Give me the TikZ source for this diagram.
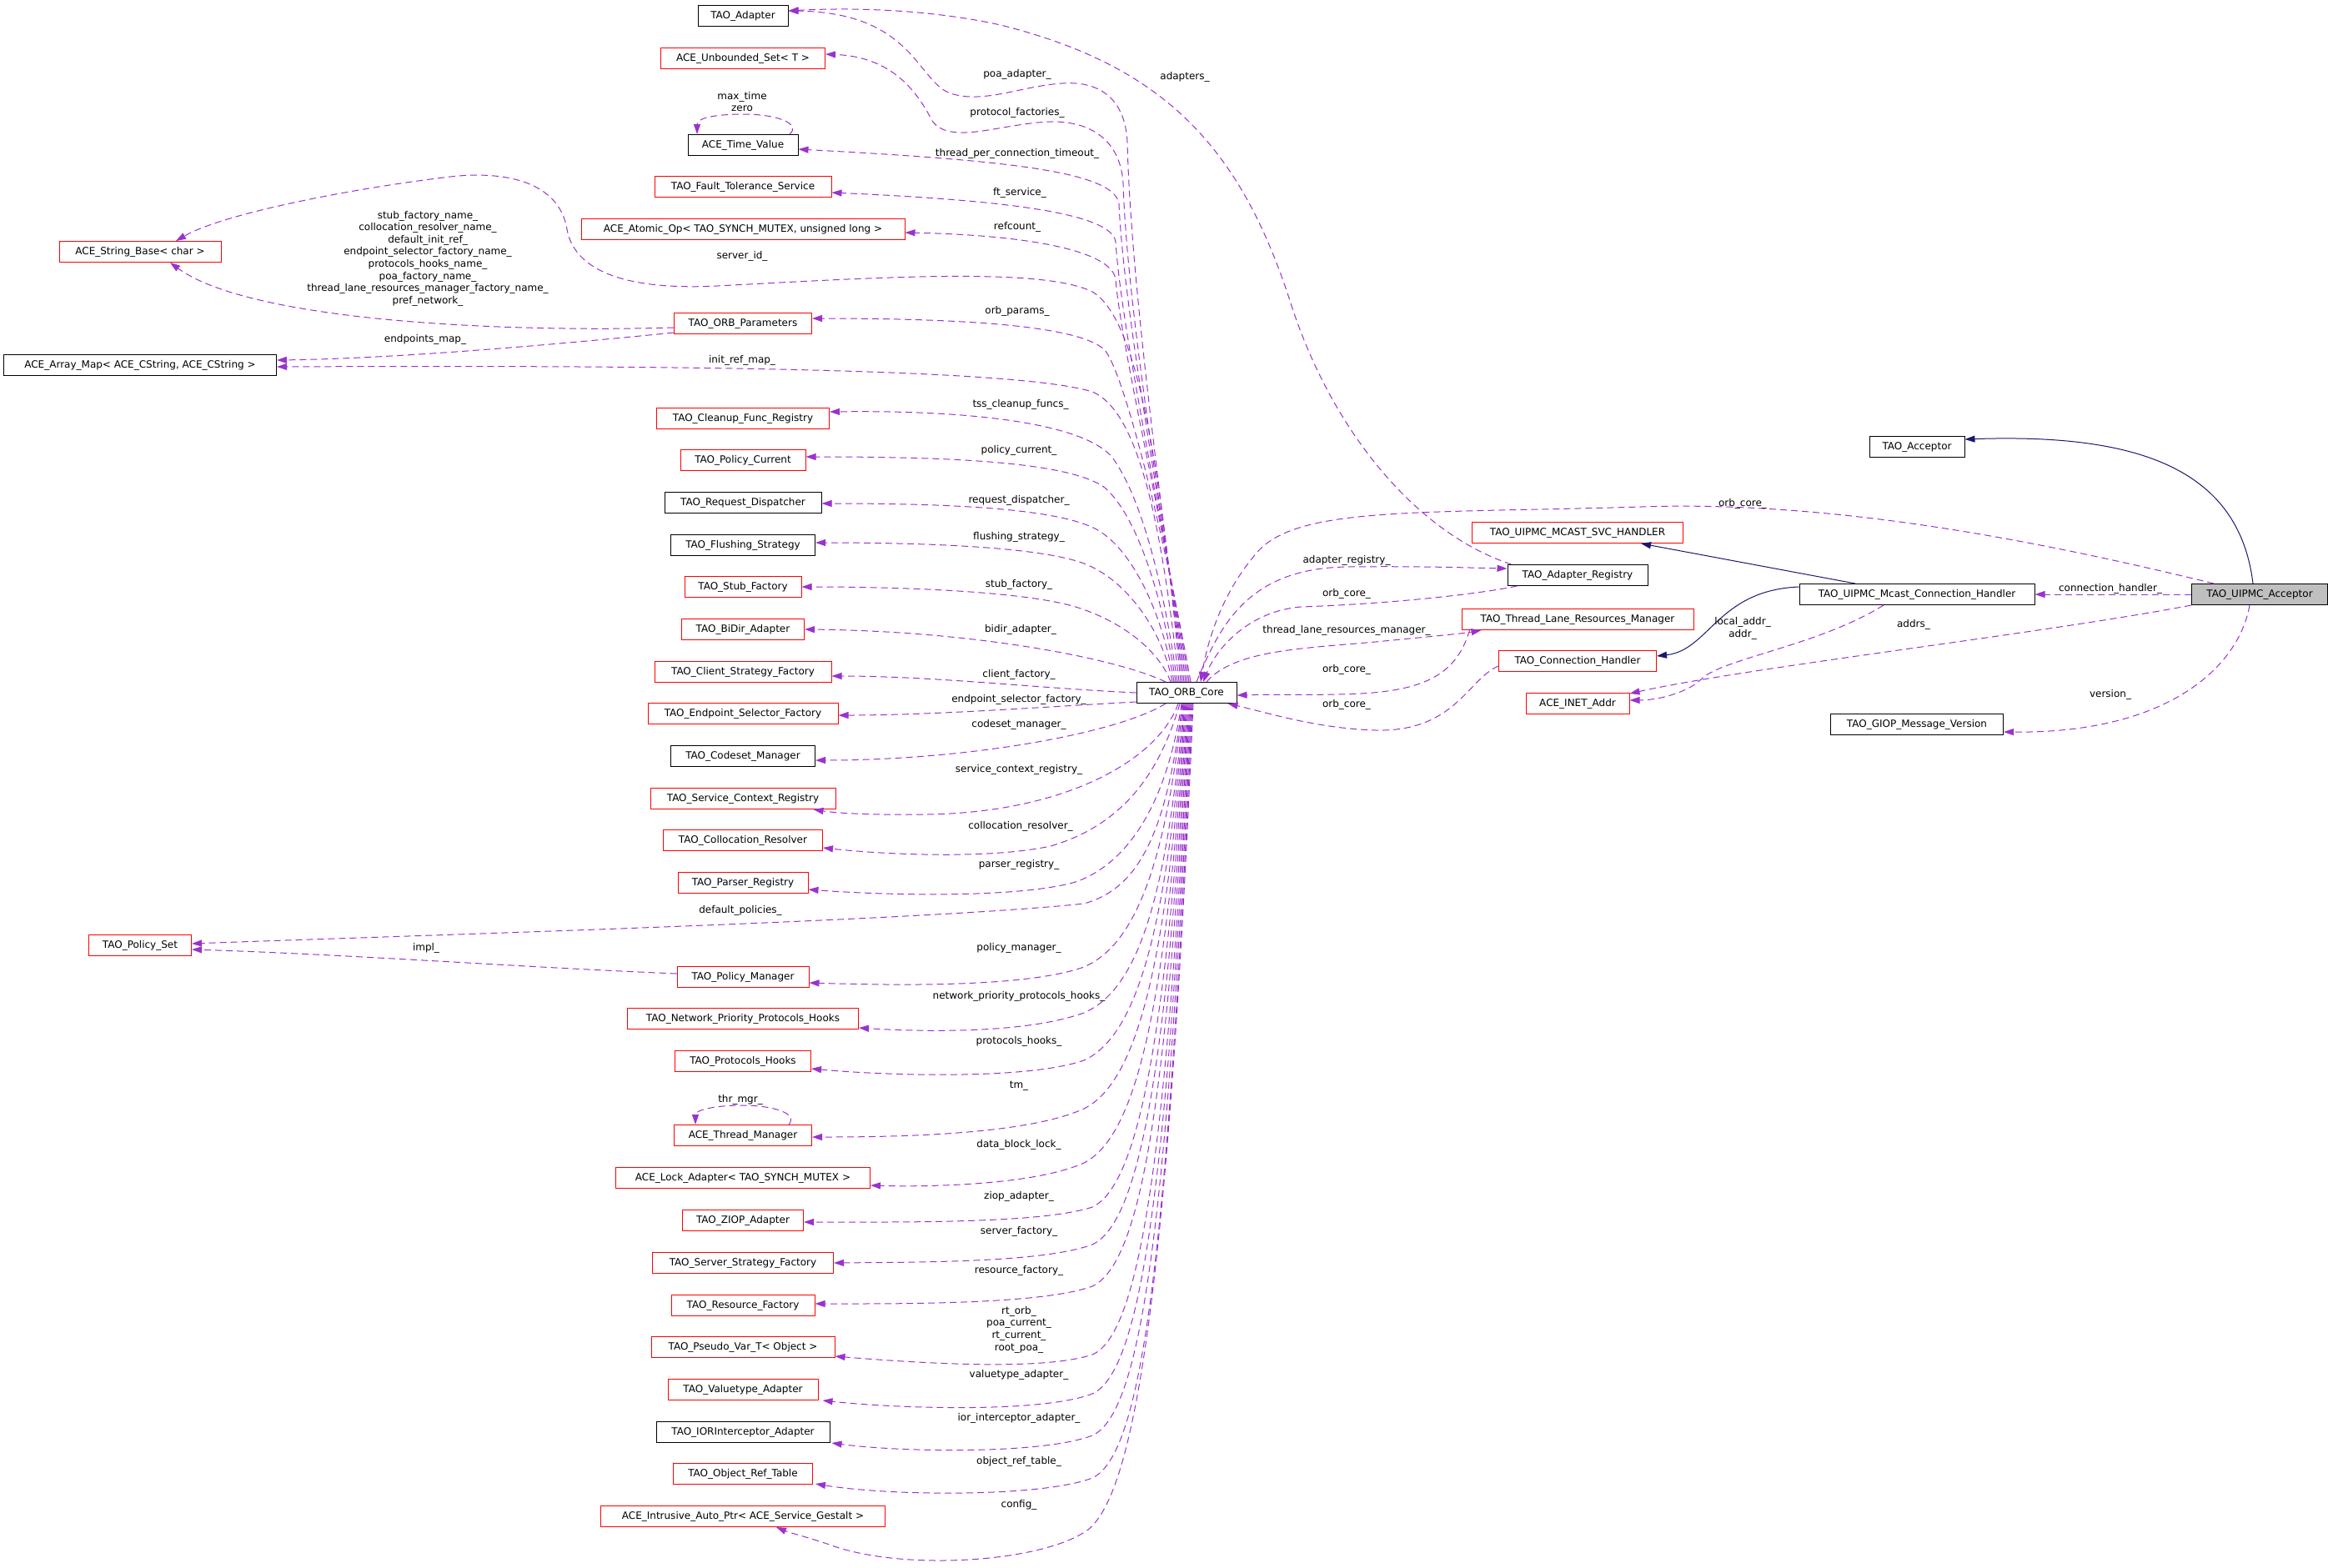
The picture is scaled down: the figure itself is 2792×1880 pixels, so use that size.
\documentclass[tikz,border=0pt]{standalone}
\usepackage{fontspec}
\setmainfont{DejaVu Sans}
\usetikzlibrary{arrows.meta}
\definecolor{depc}{HTML}{9A32CD}
\definecolor{inhc}{HTML}{191970}
\definecolor{selfc}{HTML}{BFBFBF}
\begin{document}
\begin{tikzpicture}[x=1pt,y=-1pt, font=\fontsize{12pt}{14.6pt}\selectfont,
  box/.style={draw, line width=1pt, minimum height=25pt, inner xsep=3pt, inner ysep=0pt, fill=white},
  rbox/.style={box, draw=red},
  kbox/.style={box, draw=black},
  gbox/.style={box, draw=black, fill=selfc},
  dep/.style={color=depc, line width=1pt, dash pattern=on 8pt off 5pt, -{Triangle[length=12pt,width=8pt]}},
  inh/.style={color=inhc, line width=1pt, -{Triangle[length=12pt,width=8pt]}},
  lbl/.style={inner sep=0pt, align=center}]
\fill[white] (0,0) rectangle (2792,1880);
\useasboundingbox (0,0) rectangle (2792,1880);

% ---------- nodes, left column ----------
\node[kbox, minimum width=108pt] (ada) at (891,19) {TAO\_Adapter};
\node[rbox, minimum width=197pt] (uset) at (891,70) {ACE\_Unbounded\_Set< T >};
\node[kbox, minimum width=132pt] (tv) at (891,174) {ACE\_Time\_Value};
\node[rbox, minimum width=212pt] (fts) at (891,224) {TAO\_Fault\_Tolerance\_Service};
\node[rbox, minimum width=388pt] (aop) at (891,275) {ACE\_Atomic\_Op< TAO\_SYNCH\_MUTEX, unsigned long >};
\node[rbox, minimum width=194pt] (sb) at (168,302) {ACE\_String\_Base< char >};
\node[rbox, minimum width=165pt] (orbp) at (891,388) {TAO\_ORB\_Parameters};
\node[kbox, minimum width=327pt] (am) at (168,438) {ACE\_Array\_Map< ACE\_CString, ACE\_CString >};
\node[rbox, minimum width=207pt] (cfr) at (891,502) {TAO\_Cleanup\_Func\_Registry};
\node[rbox, minimum width=150pt] (pc) at (891,552) {TAO\_Policy\_Current};
\node[kbox, minimum width=188pt] (rd) at (891,603) {TAO\_Request\_Dispatcher};
\node[kbox, minimum width=173pt] (fs) at (891,654) {TAO\_Flushing\_Strategy};
\node[rbox, minimum width=140pt] (sf) at (891,704) {TAO\_Stub\_Factory};
\node[rbox, minimum width=147pt] (bd) at (891,755) {TAO\_BiDir\_Adapter};
\node[rbox, minimum width=212pt] (csf) at (891,806) {TAO\_Client\_Strategy\_Factory};
\node[rbox, minimum width=228pt] (esf) at (891,856) {TAO\_Endpoint\_Selector\_Factory};
\node[kbox, minimum width=173pt] (cm) at (891,907) {TAO\_Codeset\_Manager};
\node[rbox, minimum width=222pt] (scr) at (891,958) {TAO\_Service\_Context\_Registry};
\node[rbox, minimum width=191pt] (cr) at (891,1008) {TAO\_Collocation\_Resolver};
\node[rbox, minimum width=156pt] (pr) at (891,1059) {TAO\_Parser\_Registry};
\node[rbox, minimum width=123pt] (ps) at (168,1134) {TAO\_Policy\_Set};
\node[rbox, minimum width=158pt] (pm) at (891,1172) {TAO\_Policy\_Manager};
\node[rbox, minimum width=277pt] (nph) at (891,1222) {TAO\_Network\_Priority\_Protocols\_Hooks};
\node[rbox, minimum width=163pt] (ph) at (891,1273) {TAO\_Protocols\_Hooks};
\node[rbox, minimum width=165pt] (tm) at (891,1362) {ACE\_Thread\_Manager};
\node[rbox, minimum width=305pt] (la) at (891,1413) {ACE\_Lock\_Adapter< TAO\_SYNCH\_MUTEX >};
\node[rbox, minimum width=145pt] (ziop) at (891,1464) {TAO\_ZIOP\_Adapter};
\node[rbox, minimum width=217pt] (ssf) at (891,1515) {TAO\_Server\_Strategy\_Factory};
\node[rbox, minimum width=172pt] (rf) at (891,1566) {TAO\_Resource\_Factory};
\node[rbox, minimum width=220pt] (pv) at (891,1616) {TAO\_Pseudo\_Var\_T< Object >};
\node[rbox, minimum width=180pt] (va) at (891,1667) {TAO\_Valuetype\_Adapter};
\node[kbox, minimum width=208pt] (ioria) at (891,1718) {TAO\_IORInterceptor\_Adapter};
\node[rbox, minimum width=167pt] (ort) at (891,1768) {TAO\_Object\_Ref\_Table};
\node[rbox, minimum width=341pt] (iap) at (891,1819) {ACE\_Intrusive\_Auto\_Ptr< ACE\_Service\_Gestalt >};

% ---------- centre and right ----------
\node[kbox, minimum width=120pt] (orb) at (1423,831) {TAO\_ORB\_Core};
\node[kbox, minimum width=114pt] (acc) at (2299,536) {TAO\_Acceptor};
\node[rbox, minimum width=253pt] (svc) at (1892,639) {TAO\_UIPMC\_MCAST\_SVC\_HANDLER};
\node[kbox, minimum width=168pt] (areg) at (1892,690) {TAO\_Adapter\_Registry};
\node[kbox, minimum width=282pt] (mch) at (2299,713) {TAO\_UIPMC\_Mcast\_Connection\_Handler};
\node[gbox, minimum width=163pt] (uacc) at (2710,713) {TAO\_UIPMC\_Acceptor};
\node[rbox, minimum width=278pt] (tlrm) at (1892,743) {TAO\_Thread\_Lane\_Resources\_Manager};
\node[rbox, minimum width=189pt] (ch) at (1892,793) {TAO\_Connection\_Handler};
\node[rbox, minimum width=124pt] (inet) at (1892,844) {ACE\_INET\_Addr};
\node[kbox, minimum width=207pt] (giop) at (2299,869) {TAO\_GIOP\_Message\_Version};

% ---------- edges from TAO_ORB_Core, upper ----------
\draw[dep] ([xshift=-5pt]orb.north) .. controls (1400,650) and (1356,350) .. (1352,170) .. controls (1349,115) and (1315,97) .. (1274,100) .. controls (1225,103) and (1180,125) .. (1140,112) .. controls (1100,98) and (1095,15) .. ([yshift=6pt]ada.east);
\draw[dep] ([xshift=-3pt]orb.north) .. controls (1400,650) and (1352,380) .. (1347,220) .. controls (1344,170) and (1310,145) .. (1260,146) .. controls (1200,148) and (1140,175) .. (1118,145) .. controls (1100,110) and (1070,68) .. ([yshift=5pt]uset.east);
\draw[dep] ([xshift=-1pt]orb.north) .. controls (1400,650) and (1348,380) .. (1342,245) .. controls (1338,205) and (1200,192) .. ([yshift=-5pt]tv.east);
\draw[dep] ([xshift=1pt]orb.north) .. controls (1400,650) and (1345,400) .. (1338,290) .. controls (1333,255) and (1200,240) .. ([yshift=-7pt]fts.east);
\draw[dep] ([xshift=3pt]orb.north) .. controls (1400,650) and (1345,420) .. (1338,335) .. controls (1333,300) and (1230,282) .. ([yshift=-4pt]aop.east);
\draw[dep] ([xshift=-7pt]orb.north) .. controls (1395,600) and (1370,385) .. (1310,350) .. controls (1250,320) and (1050,333) .. (860,343) .. controls (740,349) and (688,320) .. (680,275) .. controls (670,215) and (600,205) .. (540,212) .. controls (430,225) and (270,255) .. ([xshift=43pt]sb.north);
\draw[dep] ([xshift=5pt]orb.north) .. controls (1400,660) and (1350,450) .. (1325,420) .. controls (1295,390) and (1150,382) .. ([yshift=6pt]orbp.east);
\draw[dep] ([xshift=-9pt]orb.north) .. controls (1395,650) and (1370,495) .. (1310,470) .. controls (1220,442) and (800,438) .. ([yshift=-2pt]am.east);
\draw[dep] ([xshift=-11pt]orb.north) .. controls (1395,700) and (1370,600) .. (1335,550) .. controls (1300,505) and (1150,492) .. ([yshift=8pt]cfr.east);
\draw[dep] ([xshift=-13pt]orb.north) .. controls (1395,720) and (1365,620) .. (1325,585) .. controls (1280,552) and (1120,548) .. ([yshift=4pt]pc.east);
\draw[dep] ([xshift=-15pt]orb.north) .. controls (1395,740) and (1360,660) .. (1315,635) .. controls (1265,608) and (1120,604) .. ([yshift=-1pt]rd.east);
\draw[dep] ([xshift=-17pt]orb.north) .. controls (1395,760) and (1355,700) .. (1305,678) .. controls (1255,656) and (1110,651) .. ([yshift=3pt]fs.east);
\draw[dep] ([xshift=-19pt]orb.north) .. controls (1390,780) and (1345,745) .. (1290,728) .. controls (1230,710) and (1090,704) .. (sf.east);
\draw[dep] ([xshift=-25pt]orb.north) .. controls (1340,790) and (1170,757) .. (bd.east);
\draw[dep] (orb.west) .. controls (1250,826) and (1120,811) .. ([yshift=-5pt]csf.east);
\draw[dep] ([yshift=-11pt]orb.west) .. controls (1250,848) and (1120,858) .. ([yshift=-2pt]esf.east);

% ---------- edges from TAO_ORB_Core, lower ----------
\draw[dep] ([xshift=-25pt]orb.south) .. controls (1340,880) and (1160,912) .. ([yshift=-5pt]cm.east);
\draw[dep] ([xshift=-10pt]orb.south) .. controls (1390,910) and (1280,975) .. (1110,977) .. controls (1040,978) and (1000,975) .. ([xshift=-27pt]scr.south east);
\draw[dep] ([xshift=-8pt]orb.south) .. controls (1390,930) and (1345,990) .. (1260,1015) .. controls (1180,1032) and (1050,1024) .. ([yshift=-9pt]cr.east);
\draw[dep] ([xshift=-6pt]orb.south) .. controls (1400,960) and (1355,1035) .. (1290,1058) .. controls (1220,1078) and (1060,1074) .. ([yshift=-8pt]pr.east);
\draw[dep] ([xshift=-5pt]orb.south) .. controls (1400,990) and (1370,1065) .. (1300,1084) .. controls (1100,1105) and (500,1122) .. ([yshift=2pt]ps.east);
\draw[dep] ([xshift=-4pt]orb.south) .. controls (1400,1010) and (1370,1130) .. (1300,1160) .. controls (1230,1185) and (1070,1182) .. ([yshift=-7pt]pm.east);
\draw[dep] ([xshift=-3pt]orb.south) .. controls (1400,1060) and (1370,1185) .. (1300,1215) .. controls (1230,1240) and (1110,1238) .. ([yshift=-11pt]nph.east);
\draw[dep] ([xshift=-2pt]orb.south) .. controls (1400,1090) and (1370,1240) .. (1300,1272) .. controls (1230,1296) and (1060,1290) .. ([yshift=-9pt]ph.east);
\draw[dep] ([xshift=-1pt]orb.south) .. controls (1400,1130) and (1370,1295) .. (1300,1330) .. controls (1230,1362) and (1070,1364) .. ([yshift=-2pt]tm.east);
\draw[dep] (orb.south) .. controls (1400,1170) and (1370,1360) .. (1300,1395) .. controls (1240,1422) and (1110,1424) .. ([yshift=-9pt]la.east);
\draw[dep] ([xshift=1pt]orb.south) .. controls (1400,1210) and (1370,1420) .. (1310,1448) .. controls (1250,1468) and (1080,1466) .. ([yshift=-2pt]ziop.east);
\draw[dep] ([xshift=2pt]orb.south) .. controls (1400,1260) and (1370,1465) .. (1310,1493) .. controls (1250,1515) and (1100,1514) .. (ssf.east);
\draw[dep] ([xshift=3pt]orb.south) .. controls (1400,1310) and (1370,1515) .. (1310,1543) .. controls (1250,1565) and (1080,1564) .. ([yshift=2pt]rf.east);
\draw[dep] ([xshift=4pt]orb.south) .. controls (1400,1360) and (1370,1600) .. (1310,1625) .. controls (1250,1645) and (1100,1635) .. ([yshift=-11pt]pv.east);
\draw[dep] ([xshift=5pt]orb.south) .. controls (1400,1410) and (1370,1645) .. (1310,1672) .. controls (1250,1695) and (1080,1690) .. ([xshift=5pt]va.south east);
\draw[dep] ([xshift=6pt]orb.south) .. controls (1400,1460) and (1370,1695) .. (1310,1722) .. controls (1250,1745) and (1080,1742) .. ([xshift=2pt]ioria.south east);
\draw[dep] ([xshift=7pt]orb.south) .. controls (1400,1510) and (1370,1745) .. (1310,1773) .. controls (1250,1796) and (1070,1795) .. ([xshift=3pt,yshift=1pt]ort.south east);
\draw[dep] ([xshift=8pt]orb.south) .. controls (1400,1560) and (1360,1790) .. (1305,1835) .. controls (1250,1875) and (1080,1885) .. (995,1853) .. controls (965,1843) and (945,1838) .. ([xshift=40pt]iap.south);

% ---------- self loops ----------
\draw[dep] ([xshift=56pt]tv.north) .. controls (962,148) and (930,137) .. (893,137) .. controls (855,137) and (836,142) .. ([xshift=-55pt]tv.north);
\draw[dep] ([xshift=55pt]tm.north) .. controls (958,1335) and (925,1326) .. (891,1326) .. controls (855,1326) and (834,1332) .. ([xshift=-57pt]tm.north);

% ---------- TAO_ORB_Parameters and TAO_Policy_Manager ----------
\draw[dep] ([yshift=-5pt]orbp.west) .. controls (600,399) and (300,385) .. ([xshift=36pt]sb.south);
\draw[dep] ([yshift=-11pt]orbp.west) .. controls (680,412) and (480,430) .. ([yshift=6pt]am.east);
\draw[dep] ([yshift=4pt]pm.west) .. controls (620,1160) and (420,1145) .. ([yshift=-5pt]ps.east);

% ---------- right part ----------
\draw[dep] ([xshift=5pt]areg.north west) .. controls (1700,640) and (1600,520) .. (1550,370) .. controls (1490,180) and (1400,80) .. (1200,30) .. controls (1100,8) and (1000,10) .. ([yshift=6pt]ada.east);
\draw[dep] ([xshift=12pt]orb.north) .. controls (1465,745) and (1500,682) .. (1615,680) .. controls (1700,679) and (1760,681) .. ([yshift=8pt]areg.west);
\draw[dep] ([xshift=12pt]areg.south west) .. controls (1760,715) and (1650,725) .. (1560,728) .. controls (1500,733) and (1460,775) .. ([xshift=20pt]orb.north);
\draw[dep] ([xshift=24pt]orb.north) .. controls (1480,780) and (1560,778) .. (1650,770) .. controls (1710,764) and (1755,760) .. ([xshift=24pt]tlrm.south west);
\draw[dep] ([xshift=10pt]tlrm.south west) .. controls (1745,815) and (1700,832) .. (1600,833) .. controls (1550,834) and (1520,833) .. ([yshift=-3pt]orb.east);
\draw[dep] ([yshift=-6pt]ch.west) .. controls (1760,815) and (1745,878) .. (1650,876) .. controls (1580,874) and (1520,855) .. ([xshift=-11pt]orb.south east);
\draw[dep] ([xshift=-55pt]uacc.north) .. controls (2450,650) and (2200,600) .. (1968,608) .. controls (1700,616) and (1560,608) .. (1510,660) .. controls (1465,710) and (1448,770) .. ([xshift=17pt]orb.north);
\draw[dep] (uacc.west) -- (mch.east);
\draw[dep] ([xshift=-40pt]mch.south) .. controls (2180,775) and (2065,790) .. (2040,815) .. controls (2025,830) and (1990,840) .. ([yshift=4pt]inet.east);
\draw[dep] (uacc.south west) .. controls (2450,760) and (2100,800) .. ([yshift=12pt]inet.east);
\draw[dep] ([xshift=-12pt]uacc.south) .. controls (2685,800) and (2600,880) .. ([yshift=-9pt]giop.east);

% ---------- inheritance ----------
\draw[inh] ([xshift=-8pt]uacc.north) .. controls (2685,560) and (2560,520) .. ([yshift=9pt]acc.east);
\draw[inh] ([xshift=-74pt]mch.north) -- ([xshift=76pt]svc.south);
\draw[inh] ([yshift=9pt]mch.west) .. controls (2060,708) and (2050,780) .. ([yshift=6pt]ch.east);

% ---------- labels ----------
\node[lbl] (l01) at (890,122) {max\_time\\zero};
\node[lbl] (l02) at (1220,89) {poa\_adapter\_};
\node[lbl] (l03) at (1421,92) {adapters\_};
\node[lbl] (l04) at (1220,135) {protocol\_factories\_};
\node[lbl] (l05) at (1220,184) {thread\_per\_connection\_timeout\_};
\node[lbl] (l06) at (1223,231) {ft\_service\_};
\node[lbl] (l07) at (1220,272) {refcount\_};
\node[lbl] (l08) at (890,307) {server\_id\_};
\node[lbl] (l09) at (513,310) {stub\_factory\_name\_\\collocation\_resolver\_name\_\\default\_init\_ref\_\\endpoint\_selector\_factory\_name\_\\protocols\_hooks\_name\_\\poa\_factory\_name\_\\thread\_lane\_resources\_manager\_factory\_name\_\\pref\_network\_};
\node[lbl] (l10) at (1220,373) {orb\_params\_};
\node[lbl] (l11) at (510,407) {endpoints\_map\_};
\node[lbl] (l12) at (890,432) {init\_ref\_map\_};
\node[lbl] (l13) at (1224,485) {tss\_cleanup\_funcs\_};
\node[lbl] (l14) at (1222,540) {policy\_current\_};
\node[lbl] (l15) at (1222,600) {request\_dispatcher\_};
\node[lbl] (l16) at (1222,644) {flushing\_strategy\_};
\node[lbl] (l17) at (1222,701) {stub\_factory\_};
\node[lbl] (l18) at (1224,755) {bidir\_adapter\_};
\node[lbl] (l19) at (1222,809) {client\_factory\_};
\node[lbl] (l20) at (1222,839) {endpoint\_selector\_factory\_};
\node[lbl] (l21) at (1222,869) {codeset\_manager\_};
\node[lbl] (l22) at (1222,923) {service\_context\_registry\_};
\node[lbl] (l23) at (1224,991) {collocation\_resolver\_};
\node[lbl] (l24) at (1222,1037) {parser\_registry\_};
\node[lbl] (l25) at (888,1092) {default\_policies\_};
\node[lbl] (l26) at (511,1137) {impl\_};
\node[lbl] (l27) at (1222,1137) {policy\_manager\_};
\node[lbl] (l28) at (1222,1195) {network\_priority\_protocols\_hooks\_};
\node[lbl] (l29) at (1222,1249) {protocols\_hooks\_};
\node[lbl] (l30) at (1222,1303) {tm\_};
\node[lbl] (l31) at (888,1319) {thr\_mgr\_};
\node[lbl] (l32) at (1222,1373) {data\_block\_lock\_};
\node[lbl] (l33) at (1222,1435) {ziop\_adapter\_};
\node[lbl] (l34) at (1222,1477) {server\_factory\_};
\node[lbl] (l35) at (1222,1524) {resource\_factory\_};
\node[lbl] (l36) at (1222,1595) {rt\_orb\_\\poa\_current\_\\rt\_current\_\\root\_poa\_};
\node[lbl] (l37) at (1222,1649) {valuetype\_adapter\_};
\node[lbl] (l38) at (1222,1701) {ior\_interceptor\_adapter\_};
\node[lbl] (l39) at (1222,1753) {object\_ref\_table\_};
\node[lbl] (l40) at (1222,1805) {config\_};
\node[lbl] (l41) at (1615,672) {adapter\_registry\_};
\node[lbl] (l42) at (1615,712) {orb\_core\_};
\node[lbl] (l43) at (1615,756) {thread\_lane\_resources\_manager\_};
\node[lbl] (l44) at (1615,803) {orb\_core\_};
\node[lbl] (l45) at (1615,845) {orb\_core\_};
\node[lbl] (l46) at (2090,604) {orb\_core\_};
\node[lbl] (l47) at (2531,706) {connection\_handler\_};
\node[lbl] (l48) at (2090,754) {local\_addr\_\\addr\_};
\node[lbl] (l49) at (2295,749) {addrs\_};
\node[lbl] (l50) at (2531,833) {version\_};
\end{tikzpicture}
\end{document}
